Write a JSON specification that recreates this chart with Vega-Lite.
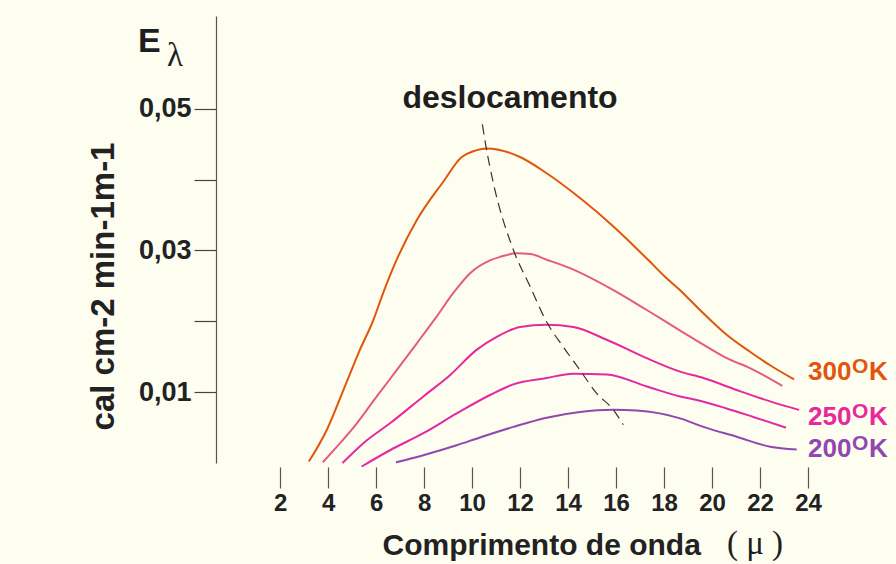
{
  "$schema": "https://vega.github.io/schema/vega-lite/v6.json",
  "width": 613,
  "height": 447,
  "autosize": "none",
  "padding": {"left": 216, "top": 16, "right": 67, "bottom": 101},
  "background": "#fdfdf0",
  "config": {"view": {"stroke": null}, "font": "Liberation Sans"},
  "datasets": {
    "curves": [
      {"T": "300", "wl": 3.2, "E": 0.0002}, {"T": "300", "wl": 3.95, "E": 0.0047}, {"T": "300", "wl": 4.64, "E": 0.0103}, {"T": "300", "wl": 5.33, "E": 0.016}, {"T": "300", "wl": 5.89, "E": 0.0202}, {"T": "300", "wl": 6.24, "E": 0.0235}, {"T": "300", "wl": 6.86, "E": 0.0287}, {"T": "300", "wl": 7.7, "E": 0.0343}, {"T": "300", "wl": 8.8, "E": 0.0397}, {"T": "300", "wl": 9.57, "E": 0.0432}, {"T": "300", "wl": 10.05, "E": 0.044}, {"T": "300", "wl": 10.61, "E": 0.0444}, {"T": "300", "wl": 12.0, "E": 0.0432}, {"T": "300", "wl": 13.11, "E": 0.0409}, {"T": "300", "wl": 14.5, "E": 0.0374}, {"T": "300", "wl": 15.89, "E": 0.0334}, {"T": "300", "wl": 17.42, "E": 0.0284}, {"T": "300", "wl": 18.04, "E": 0.0263}, {"T": "300", "wl": 18.67, "E": 0.0244}, {"T": "300", "wl": 19.5, "E": 0.0216}, {"T": "300", "wl": 20.61, "E": 0.0181}, {"T": "300", "wl": 21.58, "E": 0.0157}, {"T": "300", "wl": 22.42, "E": 0.0138}, {"T": "300", "wl": 23.42, "E": 0.0118},
      {"T": "275", "wl": 3.78, "E": 0.0001}, {"T": "275", "wl": 4.5, "E": 0.0028}, {"T": "275", "wl": 5.2, "E": 0.0056}, {"T": "275", "wl": 6.03, "E": 0.0094}, {"T": "275", "wl": 6.86, "E": 0.0131}, {"T": "275", "wl": 7.7, "E": 0.0169}, {"T": "275", "wl": 8.53, "E": 0.0207}, {"T": "275", "wl": 9.22, "E": 0.024}, {"T": "275", "wl": 9.92, "E": 0.0268}, {"T": "275", "wl": 10.75, "E": 0.0286}, {"T": "275", "wl": 11.17, "E": 0.0291}, {"T": "275", "wl": 11.86, "E": 0.0296}, {"T": "275", "wl": 12.42, "E": 0.0295}, {"T": "275", "wl": 13.11, "E": 0.0287}, {"T": "275", "wl": 14.08, "E": 0.0275}, {"T": "275", "wl": 15.89, "E": 0.0244}, {"T": "275", "wl": 17.28, "E": 0.0216}, {"T": "275", "wl": 18.67, "E": 0.0187}, {"T": "275", "wl": 19.64, "E": 0.0167}, {"T": "275", "wl": 20.61, "E": 0.0148}, {"T": "275", "wl": 21.58, "E": 0.0134}, {"T": "275", "wl": 22.93, "E": 0.0109},
      {"T": "250", "wl": 4.6, "E": 0.0}, {"T": "250", "wl": 5.47, "E": 0.0028}, {"T": "250", "wl": 6.58, "E": 0.0056}, {"T": "250", "wl": 7.97, "E": 0.0094}, {"T": "250", "wl": 9.08, "E": 0.0124}, {"T": "250", "wl": 10.2, "E": 0.016}, {"T": "250", "wl": 11.03, "E": 0.0178}, {"T": "250", "wl": 12.0, "E": 0.0192}, {"T": "250", "wl": 13.11, "E": 0.0195}, {"T": "250", "wl": 14.22, "E": 0.0192}, {"T": "250", "wl": 15.61, "E": 0.0174}, {"T": "250", "wl": 17.28, "E": 0.0148}, {"T": "250", "wl": 18.67, "E": 0.0129}, {"T": "250", "wl": 19.64, "E": 0.012}, {"T": "250", "wl": 21.03, "E": 0.0103}, {"T": "250", "wl": 22.42, "E": 0.0087}, {"T": "250", "wl": 23.63, "E": 0.0075},
      {"T": "225", "wl": 5.4, "E": -0.0005}, {"T": "225", "wl": 6.58, "E": 0.0018}, {"T": "225", "wl": 7.97, "E": 0.0042}, {"T": "225", "wl": 9.36, "E": 0.007}, {"T": "225", "wl": 10.75, "E": 0.0096}, {"T": "225", "wl": 11.72, "E": 0.0111}, {"T": "225", "wl": 13.11, "E": 0.012}, {"T": "225", "wl": 14.22, "E": 0.0126}, {"T": "225", "wl": 15.61, "E": 0.0125}, {"T": "225", "wl": 17.28, "E": 0.0108}, {"T": "225", "wl": 18.67, "E": 0.0094}, {"T": "225", "wl": 19.36, "E": 0.0089}, {"T": "225", "wl": 20.61, "E": 0.0077}, {"T": "225", "wl": 21.72, "E": 0.0065}, {"T": "225", "wl": 23.08, "E": 0.005},
      {"T": "200", "wl": 6.83, "E": 0.0001}, {"T": "200", "wl": 7.97, "E": 0.0011}, {"T": "200", "wl": 9.36, "E": 0.0025}, {"T": "200", "wl": 10.33, "E": 0.0036}, {"T": "200", "wl": 11.72, "E": 0.0051}, {"T": "200", "wl": 13.11, "E": 0.0064}, {"T": "200", "wl": 14.5, "E": 0.0072}, {"T": "200", "wl": 15.89, "E": 0.0075}, {"T": "200", "wl": 16.86, "E": 0.0074}, {"T": "200", "wl": 18.67, "E": 0.0063}, {"T": "200", "wl": 19.64, "E": 0.0051}, {"T": "200", "wl": 21.03, "E": 0.0037}, {"T": "200", "wl": 22.42, "E": 0.0023}, {"T": "200", "wl": 23.53, "E": 0.0019}
    ],
    "desloc": [
      {"wl": 10.43, "E": 0.0478}, {"wl": 10.58, "E": 0.0447}, {"wl": 10.89, "E": 0.0395}, {"wl": 11.72, "E": 0.0301}, {"wl": 12.42, "E": 0.0249}, {"wl": 13.11, "E": 0.0199}, {"wl": 13.8, "E": 0.0164}, {"wl": 14.5, "E": 0.0131}, {"wl": 15.2, "E": 0.0098}, {"wl": 15.89, "E": 0.0075}, {"wl": 16.3, "E": 0.0054}
    ],
    "labels": [
      {"T": "300", "wl": 24.0, "E": 0.0117},
      {"T": "250", "wl": 24.0, "E": 0.0054},
      {"T": "200", "wl": 24.0, "E": 0.0009}
    ],
    "annot": [
      {"txt": "E", "wl": -3.92, "E": 0.058},
      {"txt": "deslocamento", "wl": 7.1, "E": 0.0501},
      {"txt": "λ", "wl": -2.71, "E": 0.0561},
      {"txt": "( μ )", "wl": 20.62, "E": -0.01285}
    ]
  },
  "layer": [
    {
      "mark": {"type": "rule", "color": "#1a1a1a", "strokeWidth": 2},
      "encoding": {"y": {"datum": 0}}
    },
    {
      "data": {"name": "curves"},
      "mark": {"type": "line", "strokeWidth": 2, "interpolate": "monotone", "clip": false},
      "encoding": {
        "x": {
          "field": "wl", "type": "quantitative",
          "scale": {"domain": [-0.67, 24.875], "nice": false, "zero": false},
          "axis": {
            "values": [2, 4, 6, 8, 10, 12, 14, 16, 18, 20, 22, 24],
            "format": "d", "domain": false, "offset": 4, "grid": false,
            "tickSize": 21, "tickColor": "#555", "tickWidth": 1.2,
            "labelFontSize": 24, "labelFontWeight": "bold", "labelColor": "#222",
            "labelPadding": 3, "labelFlush": false, "labelOverlap": false,
            "title": "Comprimento de onda", "titleFontSize": 30, "titleFontWeight": "bold",
            "titleColor": "#222", "titleX": 166, "titleY": 87, "titleAlign": "left",
            "titleBaseline": "alphabetic"
          }
        },
        "y": {
          "field": "E", "type": "quantitative",
          "scale": {"domain": [0, 0.0631], "nice": false, "zero": false},
          "axis": {
            "values": [0.01, 0.02, 0.03, 0.04, 0.05],
            "labelExpr": "datum.value == 0.01 ? '0,01' : datum.value == 0.03 ? '0,03' : datum.value == 0.05 ? '0,05' : ''",
            "grid": false, "domainColor": "#555", "domainWidth": 1.2,
            "tickSize": 22, "tickColor": "#444", "tickWidth": 1.2,
            "labelFontSize": 27, "labelFontWeight": "bold", "labelColor": "#222", "labelPadding": 3,
            "title": "cal cm-2 min-1m-1", "titleFontSize": 33, "titleFontWeight": "bold",
            "titleColor": "#222", "titleX": -103, "titleY": 270, "titleAngle": 270,
            "titleAlign": "center", "titleBaseline": "alphabetic"
          }
        },
        "color": {
          "field": "T", "type": "nominal",
          "scale": {"domain": ["300", "275", "250", "225", "200"], "range": ["#E0560E", "#E65A82", "#E8289B", "#E22AA6", "#9147B0"]},
          "legend": null
        }
      }
    },
    {
      "data": {"name": "desloc"},
      "mark": {"type": "line", "color": "#333", "strokeWidth": 1.2, "strokeDash": [10, 6], "interpolate": "monotone"},
      "encoding": {
        "x": {"field": "wl", "type": "quantitative"},
        "y": {"field": "E", "type": "quantitative"}
      }
    },
    {
      "data": {"name": "labels"},
      "mark": {"type": "text", "align": "left", "baseline": "alphabetic", "fontSize": 26, "fontWeight": "bold"},
      "encoding": {
        "x": {"field": "wl", "type": "quantitative"},
        "y": {"field": "E", "type": "quantitative"},
        "text": {"field": "T"},
        "color": {"field": "T", "type": "nominal", "legend": null}
      }
    },
    {
      "data": {"name": "labels"},
      "mark": {"type": "text", "align": "left", "baseline": "alphabetic", "fontSize": 21, "fontWeight": "bold", "dx": 44, "dy": -7, "text": "O"},
      "encoding": {
        "x": {"field": "wl", "type": "quantitative"},
        "y": {"field": "E", "type": "quantitative"},
        "color": {"field": "T", "type": "nominal", "legend": null}
      }
    },
    {
      "data": {"name": "labels"},
      "mark": {"type": "text", "align": "left", "baseline": "alphabetic", "fontSize": 26, "fontWeight": "bold", "dx": 61, "text": "K"},
      "encoding": {
        "x": {"field": "wl", "type": "quantitative"},
        "y": {"field": "E", "type": "quantitative"},
        "color": {"field": "T", "type": "nominal", "legend": null}
      }
    },
    {
      "data": {"name": "annot"},
      "transform": [{"filter": "datum.txt == 'E'"}],
      "mark": {"type": "text", "align": "left", "baseline": "alphabetic", "fontSize": 34, "fontWeight": "bold", "color": "#1e1e1e", "clip": false},
      "encoding": {
        "x": {"field": "wl", "type": "quantitative"},
        "y": {"field": "E", "type": "quantitative"},
        "text": {"field": "txt"}
      }
    },
    {
      "data": {"name": "annot"},
      "transform": [{"filter": "datum.txt == 'deslocamento'"}],
      "mark": {"type": "text", "align": "left", "baseline": "alphabetic", "fontSize": 32, "fontWeight": "bold", "color": "#1e1e1e", "clip": false},
      "encoding": {
        "x": {"field": "wl", "type": "quantitative"},
        "y": {"field": "E", "type": "quantitative"},
        "text": {"field": "txt"}
      }
    },
    {
      "data": {"name": "annot"},
      "transform": [{"filter": "datum.txt != 'E' && datum.txt != 'deslocamento'"}],
      "mark": {"type": "text", "align": "left", "baseline": "alphabetic", "fontSize": 33, "font": "Liberation Serif", "color": "#1e1e1e", "clip": false},
      "encoding": {
        "x": {"field": "wl", "type": "quantitative"},
        "y": {"field": "E", "type": "quantitative"},
        "text": {"field": "txt"}
      }
    }
  ]
}
